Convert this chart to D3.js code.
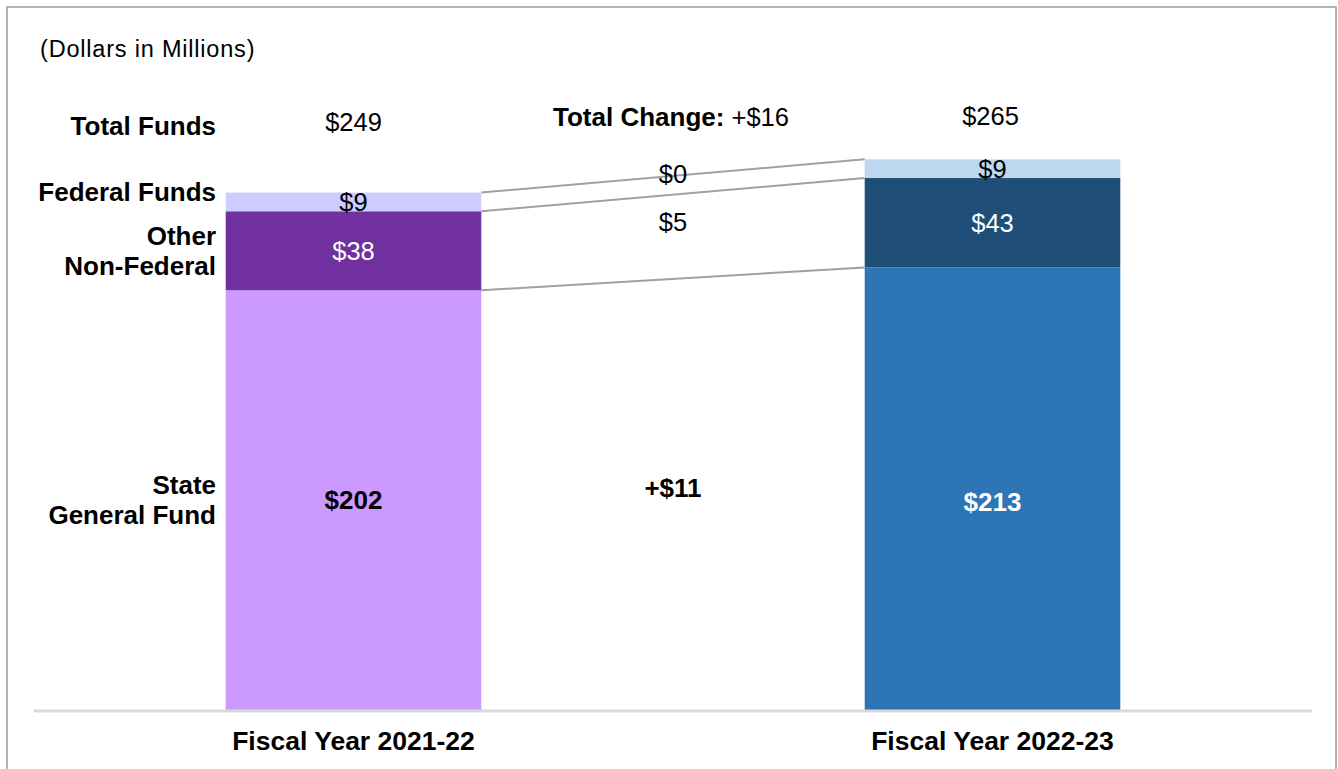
<!DOCTYPE html>
<html>
<head>
<meta charset="utf-8">
<script src="https://cdn.jsdelivr.net/npm/d3@7/dist/d3.min.js"></script>
<style>
  html, body { margin: 0; padding: 0; background: #fff; }
  svg { display: block; font-family: "Liberation Sans", Arial, sans-serif; }
</style>
</head>
<body>
<svg id="chart" width="1338" height="769"></svg>
<script>
// ---- Data ----
const categories = ["Fiscal Year 2021-22", "Fiscal Year 2022-23"];
const segments = ["State General Fund", "Other Non-Federal", "Federal Funds"];
const fy2122 = [202, 38, 9];
const fy2223 = [213, 43, 9];
const totals = [249, 265];
const changes = ["+$11", "$5", "$0"];
const totalChange = "+$16";
const rowLabels = [["State", "General Fund"], ["Other", "Non-Federal"], ["Federal Funds"]];
const valueLabels = [["$202", "$38", "$9"], ["$213", "$43", "$9"]];

// ---- Styles ----
const colors = [
  ["#cc99ff", "#7030a0", "#ccccff"],
  ["#2e75b6", "#1f4e79", "#bdd7ee"]
];
const labelColors = [
  ["#000", "#fff", "#000"],
  ["#fff", "#fff", "#000"]
];
const labelBold = [true, false, false];
const FS = 25.5;
const FSB = 26;

const svg = d3.select("#chart");

// border
svg.append("rect").attr("x", 7).attr("y", 7).attr("width", 1329).attr("height", 780)
  .attr("fill", "none").attr("stroke", "#9a9a9a").attr("stroke-width", 1.5);

const x = d3.scaleBand().domain(categories).range([34, 1312]).paddingInner(0.6).paddingOuter(0.3);
const y = d3.scaleLinear().domain([0, 300]).range([710, 86.6]);

const series = [fy2122, fy2223];
const stacks = series.map(vals => {
  let acc = 0;
  return vals.map(v => { const s = { y0: acc, y1: acc + v }; acc += v; return s; });
});

// bars
categories.forEach((c, ci) => {
  const g = svg.append("g");
  g.selectAll("rect").data(stacks[ci]).join("rect")
    .attr("x", x(c))
    .attr("width", x.bandwidth())
    .attr("y", d => y(d.y1))
    .attr("height", d => y(d.y0) - y(d.y1))
    .attr("fill", (d, i) => colors[ci][i]);
});

// connector lines
const xL = x(categories[0]) + x.bandwidth();
const xR = x(categories[1]);
segments.forEach((s, i) => {
  svg.append("line")
    .attr("x1", xL).attr("y1", y(stacks[0][i].y1))
    .attr("x2", xR).attr("y2", y(stacks[1][i].y1))
    .attr("stroke", "#a0a0a0").attr("stroke-width", 2);
});

// axis baseline
svg.append("line").attr("x1", 34).attr("x2", 1312).attr("y1", y(0) + 1).attr("y2", y(0) + 1)
  .attr("stroke", "#d9d9d9").attr("stroke-width", 3);

const mid = (ci, i) => (y(stacks[ci][i].y0) + y(stacks[ci][i].y1)) / 2;

// value labels in bars
categories.forEach((c, ci) => {
  segments.forEach((s, i) => {
    const yy = i === 0 ? mid(0, 0) : mid(ci, i);
    svg.append("text")
      .attr("x", x(c) + x.bandwidth() / 2)
      .attr("y", yy + (i === 0 && ci === 1 ? 2 : 0))
      .attr("dy", "0.35em")
      .attr("text-anchor", "middle")
      .attr("font-size", labelBold[i] ? FSB : FS)
      .attr("font-weight", labelBold[i] ? "bold" : "normal")
      .attr("fill", labelColors[ci][i])
      .text(valueLabels[ci][i]);
  });
});

// change labels
const changeOffsets = [-7, -15, -11];
const xMid = (xL + xR) / 2;
changes.forEach((t, i) => {
  svg.append("text")
    .attr("x", xMid)
    .attr("y", (mid(0, i) + mid(1, i)) / 2 + changeOffsets[i])
    .attr("dy", "0.35em")
    .attr("text-anchor", "middle")
    .attr("font-size", i === 0 ? FSB : FS)
    .attr("font-weight", i === 0 ? "bold" : "normal")
    .attr("fill", "#000")
    .text(t);
});

// row labels
const rowOffsets = [0, 0, -10];
rowLabels.forEach((lines, i) => {
  const cy = mid(0, i) + rowOffsets[i];
  const n = lines.length;
  lines.forEach((ln, k) => {
    svg.append("text")
      .attr("x", 216)
      .attr("y", cy + (k - (n - 1) / 2) * 29.5)
      .attr("dy", "0.35em")
      .attr("text-anchor", "end")
      .attr("font-size", FSB)
      .attr("font-weight", "bold")
      .attr("fill", "#000")
      .text(ln);
  });
});

// total row
svg.append("text").attr("x", 216).attr("y", 135).attr("text-anchor", "end")
  .attr("font-size", FSB).attr("font-weight", "bold").text("Total Funds");
svg.append("text").attr("x", x(categories[0]) + x.bandwidth() / 2).attr("y", 131)
  .attr("text-anchor", "middle").attr("font-size", FS).text("$" + totals[0]);
svg.append("text").attr("x", x(categories[1]) + x.bandwidth() / 2 - 2).attr("y", 125)
  .attr("text-anchor", "middle").attr("font-size", FS).text("$" + totals[1]);
const tc = svg.append("text").attr("x", xMid - 2).attr("y", 126)
  .attr("text-anchor", "middle").attr("font-size", FS);
tc.append("tspan").attr("font-weight", "bold").attr("font-size", FSB).text("Total Change:");
tc.append("tspan").text(" " + totalChange);

// units note
svg.append("text").attr("x", 40).attr("y", 57).attr("font-size", 23.5)
  .attr("letter-spacing", 0.8).text("(Dollars in Millions)");

// category labels
categories.forEach(c => {
  svg.append("text")
    .attr("x", x(c) + x.bandwidth() / 2)
    .attr("y", 750)
    .attr("text-anchor", "middle")
    .attr("font-size", 26.5)
    .attr("font-weight", "bold")
    .text(c);
});
</script>
</body>
</html>
